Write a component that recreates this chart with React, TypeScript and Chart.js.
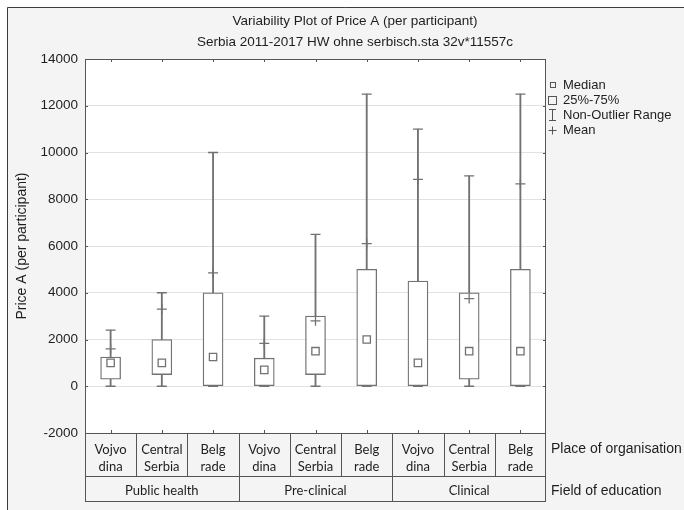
import React, { useEffect, useRef } from 'react';
import { Chart, registerables } from 'chart.js';

Chart.register(...registerables);

const TITLE_LINES = [
  'Variability Plot of Price A (per participant)',
  'Serbia 2011-2017 HW ohne serbisch.sta 32v*11557c',
];
const Y_TITLE = 'Price A (per participant)';
const PLACES: string[][] = [
  ['Vojvo', 'dina'],
  ['Central', 'Serbia'],
  ['Belg', 'rade'],
];
const FIELDS = ['Public health', 'Pre-clinical', 'Clinical'];
const ROW_TITLES = ['Place of organisation', 'Field of education'];
const LEGEND_ITEMS = ['Median', '25%-75%', 'Non-Outlier Range', 'Mean'];

const Y_MIN = -2000;
const Y_MAX = 14000;
const Y_STEP = 2000;

// per category (field x place), in order
const WHISKER_MIN = [0, 0, 0, 0, 0, 0, 0, 0, 0];
const Q1 = [300, 500, 0, 0, 500, 0, 0, 300, 0];
const Q3 = [1250, 2000, 4000, 1200, 3000, 5000, 4500, 4000, 5000];
const MEDIAN = [1000, 1000, 1250, 700, 1500, 2000, 1000, 1500, 1500];
const WHISKER_MAX = [2400, 4000, 10000, 3000, 6500, 12500, 11000, 9000, 12500];
const MEAN = [1600, 3300, 4850, 1830, 2800, 6100, 8850, 3750, 8660];

const LABELS: string[] = [];
FIELDS.forEach((f) => PLACES.forEach((p) => LABELS.push(f + ' / ' + p.join(''))));

const GREY = '#727272';
const TEXT = '#1e1e1e';
const ARIAL = '"Liberation Sans", Arial, sans-serif';
const CALIBRI = 'Lato, "Open Sans", sans-serif';

const decor = {
  id: 'decor',
  beforeDraw(chart: any) {
    const { ctx, chartArea: a, width, height } = chart;
    ctx.save();
    ctx.fillStyle = '#ffffff';
    ctx.fillRect(0, 0, width, height);
    ctx.fillStyle = '#f4f4f4';
    ctx.fillRect(7, 7, width, height);
    ctx.strokeStyle = '#3c3c3c';
    ctx.lineWidth = 1;
    ctx.beginPath();
    ctx.moveTo(7.5, height);
    ctx.lineTo(7.5, 7.5);
    ctx.lineTo(width, 7.5);
    ctx.stroke();
    ctx.fillStyle = '#ffffff';
    ctx.fillRect(a.left, a.top, a.right - a.left, a.bottom - a.top);
    ctx.restore();
  },
  afterDraw(chart: any) {
    const { ctx, chartArea: a } = chart;
    const xs = chart.scales.x;
    const ys = chart.scales.y;
    const n = LABELS.length;
    const step = (a.right - a.left) / n;
    ctx.save();

    // plot frame
    ctx.strokeStyle = '#555555';
    ctx.lineWidth = 1;
    ctx.strokeRect(a.left + 0.5, a.top + 0.5, a.right - a.left - 1, a.bottom - a.top);

    // inward ticks
    ctx.beginPath();
    for (let v = Y_MIN; v <= Y_MAX; v += Y_STEP) {
      const y = Math.round(ys.getPixelForValue(v)) + 0.5;
      ctx.moveTo(a.left, y);
      ctx.lineTo(a.left + 3, y);
      ctx.moveTo(a.right - 3, y);
      ctx.lineTo(a.right, y);
    }
    for (let i = 0; i < n; i++) {
      const x = Math.round(xs.getPixelForValue(i)) + 0.5;
      ctx.moveTo(x, a.top);
      ctx.lineTo(x, a.top + 3);
      ctx.moveTo(x, a.bottom - 3);
      ctx.lineTo(x, a.bottom);
    }
    ctx.stroke();

    // category table
    const r1Top = a.bottom;
    const r1Bot = 476;
    const r2Bot = 501;
    ctx.strokeStyle = '#555555';
    ctx.beginPath();
    ctx.moveTo(a.left + 0.5, r1Top);
    ctx.lineTo(a.left + 0.5, r2Bot + 0.5);
    ctx.moveTo(a.right - 0.5, r1Top);
    ctx.lineTo(a.right - 0.5, r2Bot + 0.5);
    ctx.moveTo(a.left, r1Bot + 0.5);
    ctx.lineTo(a.right, r1Bot + 0.5);
    ctx.moveTo(a.left, r2Bot + 0.5);
    ctx.lineTo(a.right, r2Bot + 0.5);
    for (let i = 1; i < n; i++) {
      const x = Math.round(a.left + step * i) + 0.5;
      const isGroup = i % PLACES.length === 0;
      ctx.moveTo(x, r1Top);
      ctx.lineTo(x, isGroup ? r2Bot : r1Bot);
    }
    ctx.stroke();

    ctx.fillStyle = TEXT;
    ctx.textAlign = 'center';
    ctx.textBaseline = 'middle';
    ctx.font = '13px ' + CALIBRI;
    for (let i = 0; i < n; i++) {
      const x = xs.getPixelForValue(i);
      const lines = PLACES[i % PLACES.length];
      ctx.fillText(lines[0], x, 450);
      ctx.fillText(lines[1], x, 467);
    }
    FIELDS.forEach((f, g) => {
      const x0 = a.left + step * PLACES.length * g;
      const x1 = x0 + step * PLACES.length;
      ctx.fillText(f, (x0 + x1) / 2, 491);
    });

    // row titles
    ctx.textAlign = 'left';
    ctx.font = '14px ' + ARIAL;
    ctx.fillText(ROW_TITLES[0], 551, 449);
    ctx.fillText(ROW_TITLES[1], 551, 491);

    // titles
    ctx.textAlign = 'center';
    ctx.font = '13.5px ' + ARIAL;
    ctx.fillText(TITLE_LINES[0], 355, 21);
    ctx.fillText(TITLE_LINES[1], 355, 42);

    // y title
    ctx.save();
    ctx.translate(22, (a.top + a.bottom) / 2);
    ctx.rotate(-Math.PI / 2);
    ctx.font = '14px ' + ARIAL;
    ctx.fillText(Y_TITLE, 0, 0);
    ctx.restore();

    // legend
    const lx = 552.5;
    const ly = [85, 100.5, 115, 130];
    ctx.strokeStyle = '#555555';
    ctx.lineWidth = 1;
    ctx.fillStyle = '#ffffff';
    ctx.strokeRect(550.5, 82.5, 5, 5);
    ctx.strokeRect(548.5, 96.5, 8, 8);
    ctx.beginPath();
    ctx.moveTo(lx, 109.5);
    ctx.lineTo(lx, 120.5);
    ctx.moveTo(549, 109.5);
    ctx.lineTo(556, 109.5);
    ctx.moveTo(549, 120.5);
    ctx.lineTo(556, 120.5);
    ctx.moveTo(548.5, 130.5);
    ctx.lineTo(556.5, 130.5);
    ctx.moveTo(lx, 126.5);
    ctx.lineTo(lx, 134.5);
    ctx.stroke();
    ctx.fillStyle = TEXT;
    ctx.textAlign = 'left';
    ctx.font = '13px ' + ARIAL;
    LEGEND_ITEMS.forEach((t, i) => ctx.fillText(t, 563, ly[i]));

    ctx.restore();
  },
};

export default function App() {
  const ref = useRef<HTMLCanvasElement>(null);
  useEffect(() => {
    if (!ref.current) return;
    const pointDs = (label: string, data: number[], style: string, radius: number, width: number, fill: string, order: number) => ({
      type: 'line' as const,
      label,
      data,
      showLine: false,
      fill: false,
      pointStyle: style,
      pointRadius: radius,
      pointHoverRadius: radius,
      pointBorderWidth: width,
      pointBorderColor: GREY,
      pointBackgroundColor: fill,
      borderColor: GREY,
      backgroundColor: fill,
      order,
    });
    const chart = new Chart(ref.current, {
      type: 'bar',
      data: {
        labels: LABELS,
        datasets: [
          {
            type: 'bar',
            label: 'Non-Outlier Range',
            data: WHISKER_MIN.map((v, i) => [v, WHISKER_MAX[i]]),
            backgroundColor: GREY,
            borderWidth: 0,
            barThickness: 1.2,
            grouped: false,
            order: 5,
          } as any,
          {
            type: 'bar',
            label: '25%-75%',
            data: Q1.map((v, i) => [v, Q3[i]]),
            backgroundColor: '#ffffff',
            borderColor: GREY,
            borderWidth: 1.3,
            borderSkipped: false,
            barThickness: 20,
            grouped: false,
            order: 4,
          } as any,
          pointDs('Max', WHISKER_MAX, 'line', 5, 1.3, GREY, 3) as any,
          pointDs('Min', WHISKER_MIN, 'line', 5, 1.3, GREY, 3) as any,
          pointDs('Median', MEDIAN, 'rect', 5.2, 1.3, '#ffffff', 2) as any,
          pointDs('Mean', MEAN, 'cross', 5, 1.3, GREY, 1) as any,
        ],
      },
      options: {
        animation: false,
        responsive: false,
        devicePixelRatio: 1,
        layout: { padding: { left: 0, top: 59, right: 138, bottom: 77 } },
        plugins: {
          legend: { display: false },
          title: { display: false },
          tooltip: { enabled: false },
        },
        scales: {
          x: { display: false, offset: true },
          y: {
            min: Y_MIN,
            max: Y_MAX,
            afterFit: (s: any) => {
              s.width = 85;
            },
            ticks: {
              stepSize: Y_STEP,
              color: TEXT,
              padding: 7,
              font: { family: ARIAL, size: 13.5 },
              callback: (v: any) => String(v),
            },
            grid: { color: '#e2e2e2', drawTicks: false, lineWidth: 1 },
            border: { display: false },
          },
        },
      } as any,
      plugins: [decor],
    });
    return () => chart.destroy();
  }, []);
  return (
    <div style={{ position: 'fixed', left: 0, top: 0, width: 684, height: 510 }}>
      <canvas ref={ref} width={684} height={510} style={{ display: 'block', width: 684, height: 510 }} />
    </div>
  );
}
